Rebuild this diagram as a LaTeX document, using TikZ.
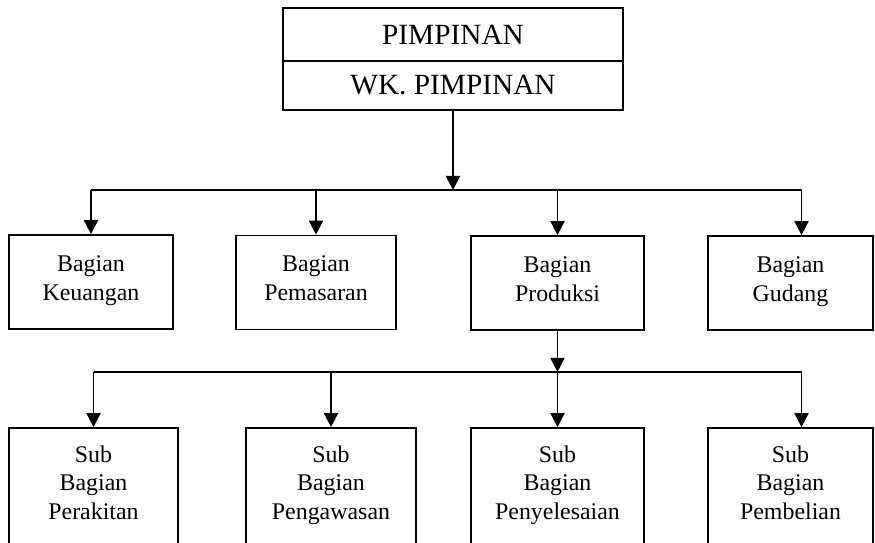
\documentclass[tikz,border=0pt]{standalone}
\usepackage{fontspec}
\setmainfont{Liberation Serif}
\usetikzlibrary{positioning, arrows.meta}

\begin{document}
\begin{tikzpicture}[
  x=0.02cm, y=-0.02cm,
  line width=1pt,
  topbox/.style={draw, minimum width=6.8cm, inner sep=0pt, outer sep=0pt,
    font=\fontsize{16.7}{20}\selectfont},
  unitbox/.style={draw, align=center, inner sep=0pt,
    font=\fontsize{13.6}{16.4}\selectfont,
    execute at begin node=\strut, execute at end node=\strut},
  arrow/.style={-{Triangle[length=8pt, width=8pt]}}
]
  \useasboundingbox (0,0) rectangle (875,542);

  % pimpinan
  \node[topbox, minimum height=1.06cm] (pim) at (453,34.5) {PIMPINAN};
  \node[topbox, minimum height=0.98cm, below=0pt of pim] (wk) {WK. PIMPINAN};

  % bagian
  \node[unitbox, minimum width=3.28cm, minimum height=1.88cm] (keu) at (91,282) {Bagian\\Keuangan};
  \node[unitbox, minimum width=3.2cm, minimum height=1.88cm] (pem) at (316,282.5) {Bagian\\Pemasaran};
  \node[unitbox, minimum width=3.46cm, minimum height=1.88cm] (pro) at (557.5,283) {Bagian\\Produksi};
  \node[unitbox, minimum width=3.3cm, minimum height=1.88cm] (gud) at (790.5,283) {Bagian\\Gudang};

  % sub bagian produksi
  \node[unitbox, minimum width=3.38cm, minimum height=2.36cm] (rakit) at (93.5,487) {Sub\\Bagian\\Perakitan};
  \node[unitbox, minimum width=3.4cm, minimum height=2.36cm] (awas) at (331,487) {Sub\\Bagian\\Pengawasan};
  \node[unitbox, minimum width=3.46cm, minimum height=2.36cm] (seles) at (557.5,487) {Sub\\Bagian\\Penyelesaian};
  \node[unitbox, minimum width=3.3cm, minimum height=2.36cm] (beli) at (790.5,487) {Sub\\Bagian\\Pembelian};

  \coordinate (bus1) at (0,190);
  \coordinate (bus2) at (0,372);
  \coordinate (gudtop) at ([xshift=0.22cm]gud.north);
  \coordinate (belitop) at ([xshift=0.22cm]beli.north);

  % garis komando
  \draw[arrow] (wk) -- (wk |- bus1);
  \draw (keu |- bus1) -- (gudtop |- bus1);
  \foreach \n in {keu,pem,pro}
    \draw[arrow] (\n |- bus1) -- (\n);
  \draw[arrow] (gudtop |- bus1) -- (gudtop);

  \draw[arrow] (pro) -- (pro |- bus2);
  \draw (rakit |- bus2) -- (belitop |- bus2);
  \foreach \n in {rakit,awas,seles}
    \draw[arrow] (\n |- bus2) -- (\n);
  \draw[arrow] (belitop |- bus2) -- (belitop);
\end{tikzpicture}
\end{document}
